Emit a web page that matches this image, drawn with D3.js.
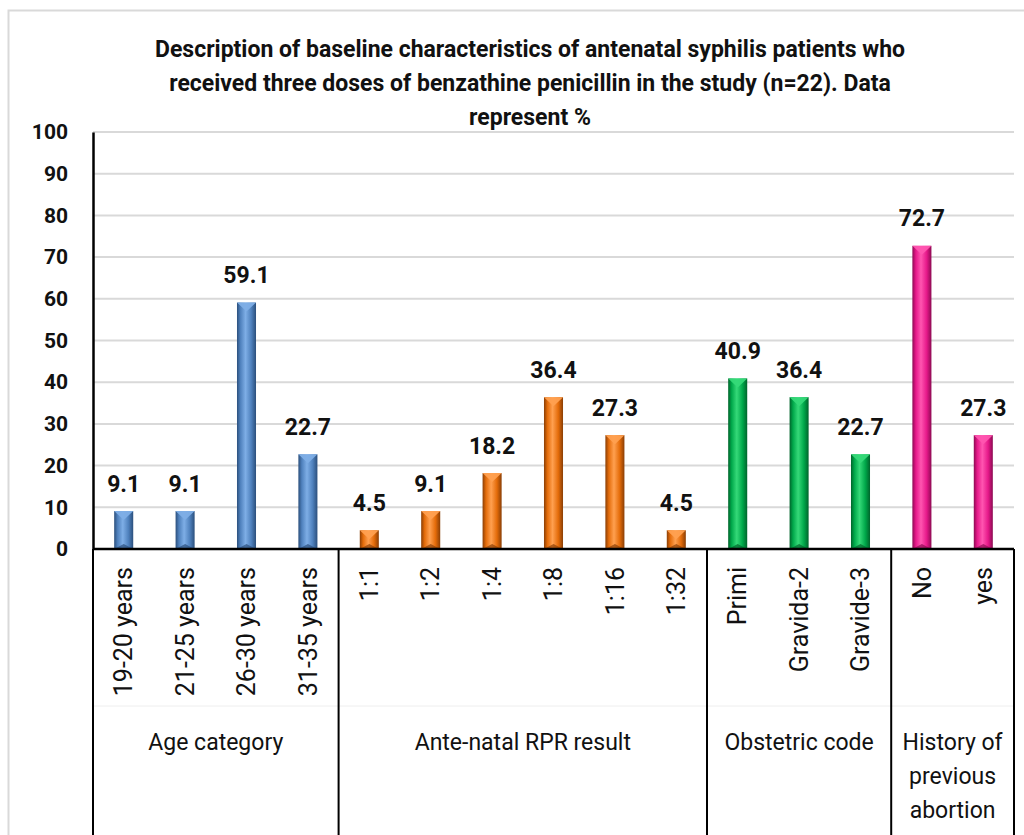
<!DOCTYPE html>
<html><head><meta charset="utf-8">
<script src="https://cdn.jsdelivr.net/npm/d3@7"></script>
<style>
body{margin:0;background:#fff;}
svg{display:block;font-family:Roboto,"Open Sans",sans-serif;}
</style></head><body>
<svg id="c" width="1024" height="835"></svg>
<script>
const categories = ["19-20 years","21-25 years","26-30 years","31-35 years","1:1","1:2","1:4","1:8","1:16","1:32","Primi","Gravida-2","Gravide-3","No","yes"];
const values = [9.1,9.1,59.1,22.7,4.5,9.1,18.2,36.4,27.3,4.5,40.9,36.4,22.7,72.7,27.3];
const groupOf = [0,0,0,0,1,1,1,1,1,1,2,2,2,3,3];
const groupNames = [["Age category"],["Ante-natal RPR result"],["Obstetric code"],["History of","previous","abortion"]];
const groupSizes = [4,6,3,2];
const yTicks = [0,10,20,30,40,50,60,70,80,90,100];
const titleLines = ["Description of baseline characteristics of antenatal syphilis patients who","received three doses of benzathine penicillin  in the study (n=22). Data","represent %"];
const palette = [
  {base:"#4f81bd", light:"#7eaee6", dark:"#2b4f7c"},
  {base:"#e46c0a", light:"#ffa050", dark:"#8a3e05"},
  {base:"#00a84a", light:"#35d978", dark:"#00642b"},
  {base:"#e6198a", light:"#ff55b0", dark:"#8c0a52"}
];

const svg = d3.select("#c");
const W=1024,H=835;
const x0=93, x1=1014, yTop=132, yBot=549;
const x = d3.scaleBand().domain(d3.range(categories.length)).range([x0,x1]).paddingInner(0.69).paddingOuter(0.345);
const y = d3.scaleLinear().domain([0,100]).range([yBot,yTop]);
const step = (x1-x0)/categories.length;

// frame
svg.append("rect").attr("x",8.5).attr("y",10.5).attr("width",1030).attr("height",900)
  .attr("fill","none").attr("stroke","#d9d9d9").attr("stroke-width",2);

// title
svg.append("g").selectAll("text").data(titleLines).join("text")
  .attr("x",530).attr("y",(d,i)=>57+i*34).attr("text-anchor","middle")
  .attr("font-size",23).attr("font-weight","bold").attr("fill","#111").text(d=>d);

// gridlines
svg.append("g").selectAll("line").data(yTicks.filter(d=>d>0)).join("line")
  .attr("x1",x0).attr("x2",x1).attr("y1",d=>y(d)).attr("y2",d=>y(d))
  .attr("stroke","#d9d9d9").attr("stroke-width",2);

// y axis
const yAxis = d3.axisLeft(y).tickValues(yTicks).tickSize(0).tickPadding(25);
const ga = svg.append("g").attr("transform",`translate(${x0},0)`).call(yAxis);
ga.select(".domain").attr("stroke","#000").attr("stroke-width",2.5);
ga.selectAll("text").attr("font-size",21).attr("font-weight","bold").attr("fill","#111")
  .attr("font-family",'Roboto,"Open Sans",sans-serif');

// gradients
const defs = svg.append("defs");
palette.forEach((p,i)=>{
  const g = defs.append("linearGradient").attr("id","g"+i).attr("x1","0").attr("x2","1").attr("y1","0").attr("y2","0");
  g.append("stop").attr("offset","0").attr("stop-color",p.dark);
  g.append("stop").attr("offset","0.18").attr("stop-color",p.base);
  g.append("stop").attr("offset","0.45").attr("stop-color",p.light);
  g.append("stop").attr("offset","0.75").attr("stop-color",p.base);
  g.append("stop").attr("offset","1").attr("stop-color",p.dark);
});

// bars
const bars = svg.append("g").selectAll("g").data(values).join("g");
bars.append("rect")
  .attr("x",(d,i)=>x(i)).attr("y",d=>y(d)).attr("width",x.bandwidth()).attr("height",d=>yBot-y(d))
  .attr("fill",(d,i)=>`url(#g${groupOf[i]})`);
bars.append("path")
  .attr("d",(d,i)=>{const a=x(i),b=a+x.bandwidth(),c=a+x.bandwidth()/2,t=y(d);return `M${a},${t}L${b},${t}L${c},${t+9}Z`;})
  .attr("fill",(d,i)=>palette[groupOf[i]].light).attr("opacity",0.95);
bars.append("path")
  .attr("d",(d,i)=>{const a=x(i),b=a+x.bandwidth(),c=a+x.bandwidth()/2,t=yBot;return `M${a},${t}L${b},${t}L${c},${t-5}Z`;})
  .attr("fill",(d,i)=>palette[groupOf[i]].dark).attr("opacity",0.7);

// data labels
svg.append("g").selectAll("text").data(values).join("text")
  .attr("x",(d,i)=>x(i)+x.bandwidth()/2).attr("y",d=>y(d)-19.5).attr("text-anchor","middle")
  .attr("font-size",23).attr("font-weight","bold").attr("fill","#111").text(d=>d.toFixed(1));

// x axis line
svg.append("line").attr("x1",x0).attr("x2",x1).attr("y1",yBot).attr("y2",yBot).attr("stroke","#000").attr("stroke-width",2.5);
// faint divider
svg.append("line").attr("x1",x0).attr("x2",x1).attr("y1",706).attr("y2",706).attr("stroke","#eeeeee").attr("stroke-width",1);

// group separators
const bounds=[0];groupSizes.forEach(s=>bounds.push(bounds[bounds.length-1]+s));
svg.append("g").selectAll("line").data(bounds).join("line")
  .attr("x1",d=>x0+d*step).attr("x2",d=>x0+d*step).attr("y1",yBot).attr("y2",H)
  .attr("stroke","#000").attr("stroke-width",2);

// category labels
svg.append("g").selectAll("text").data(categories).join("text")
  .attr("transform",(d,i)=>`translate(${x(i)+x.bandwidth()/2},567) rotate(-90)`)
  .attr("text-anchor","end").attr("dy","0.35em").attr("font-size",25).attr("fill","#111").text(d=>d);

// group labels
groupNames.forEach((lines,gi)=>{
  const cx = x0+(bounds[gi]+bounds[gi+1])/2*step;
  svg.append("g").selectAll("text").data(lines).join("text")
    .attr("x",cx).attr("y",(d,i)=>750+i*34).attr("text-anchor","middle")
    .attr("font-size",23).attr("fill","#111").text(d=>d);
});
</script></body></html>
